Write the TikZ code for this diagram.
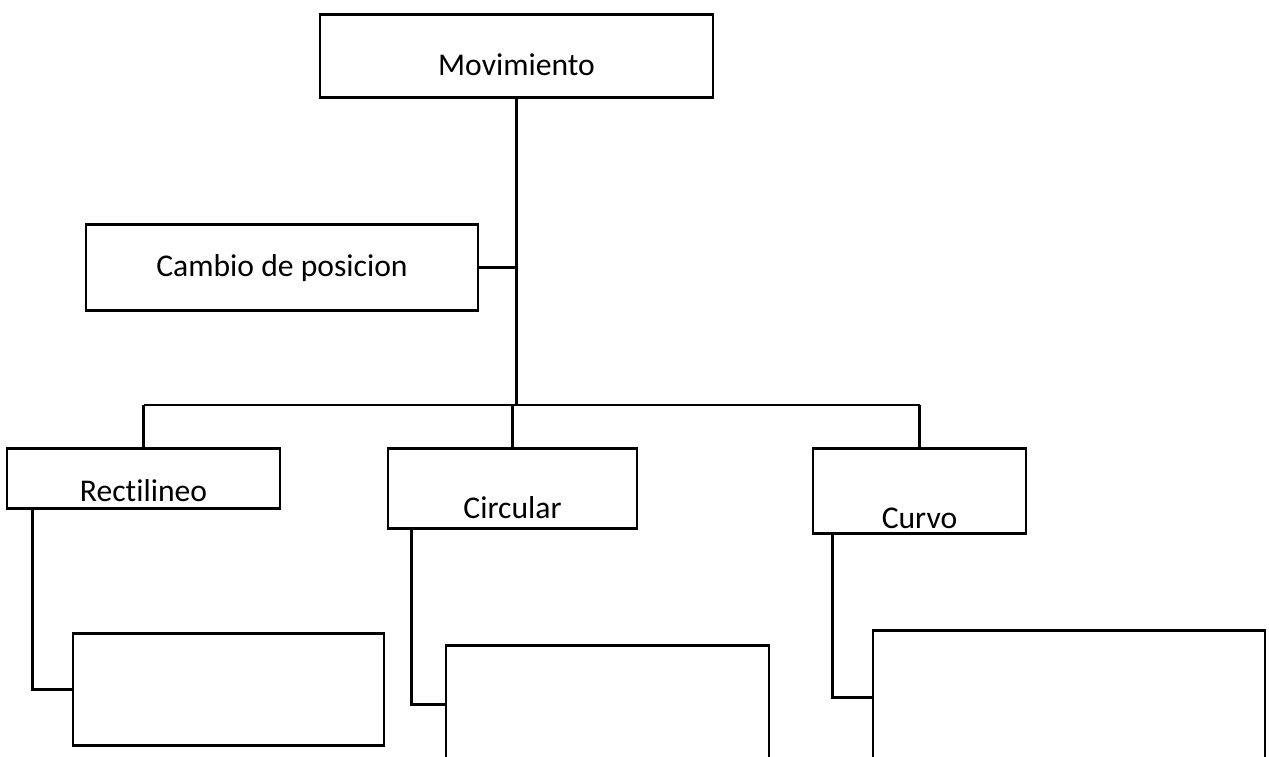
\documentclass[tikz,border=0pt]{standalone}
\usepackage{fontspec}
\setmainfont{Carlito}[Ligatures=NoCommon]
\usepackage{tikz}

\tikzset{
  caja/.style={draw, line width=1.5pt, anchor=north, inner xsep=0pt, inner ysep=0pt,
               font=\fontsize{18}{22}\selectfont},
  enlace/.style={line width=1.4pt},
  tronco/.style={line width=2.2pt},
}

\begin{document}
\begin{tikzpicture}
        \clip (0,0) rectangle (25.38,-15.12);                                  % marco
        \node [caja, minimum width=7.86cm, text height=1.22cm, text depth=0.44cm] (mov)    at (10.33,-0.26) {Movimiento};
        \node [caja, minimum width=7.84cm, text height=1.04cm, text depth=0.68cm] (cambio) at (5.64,-4.46)  {Cambio de posicion};
        \node [caja, minimum width=5.46cm, text height=1.06cm, text depth=0.14cm] (recti)  at (2.87,-8.94)  {Rectilineo};
        \node [caja, minimum width=4.98cm, text height=1.40cm, text depth=0.20cm] (circ)   at (10.25,-8.94) {Circular};
        \node [caja, minimum width=4.26cm, text height=1.60cm, text depth=0.10cm] (curvo)  at (18.39,-8.94) {Curvo};
        \node [caja, minimum width=6.22cm, minimum height=2.24cm] (vacio1) at (4.57,-12.64) {};  % bajo Rectilineo
        \node [caja, minimum width=6.46cm, minimum height=2.36cm] (vacio2) at (12.15,-12.88) {}; % bajo Circular
        \node [caja, minimum width=7.84cm, minimum height=2.68cm] (vacio3) at (21.38,-12.58) {}; % bajo Curvo
        \coordinate (bus) at (10.33,-8.10);
        \draw [tronco] (mov.south) -- (bus);                                   %
        \draw [enlace] (cambio.east) -- (cambio.east -| mov.south);            %
        \draw [enlace] (recti.north |- bus) -- (curvo.north |- bus);           %
        \draw [enlace] (recti.north) -- (recti.north |- bus);                  %
        \draw [enlace] (circ.north)  -- (circ.north |- bus);                   %
        \draw [enlace] (curvo.north) -- (curvo.north |- bus);                  %
        \draw [enlace] ([xshift=0.54cm]recti.south west) |- (vacio1.west);     %
        \draw [enlace] ([xshift=0.50cm]circ.south west)  |- (vacio2.west);     %
        \draw [enlace] ([xshift=0.42cm]curvo.south west) |- (vacio3.west);     %
\end{tikzpicture}
\end{document}
